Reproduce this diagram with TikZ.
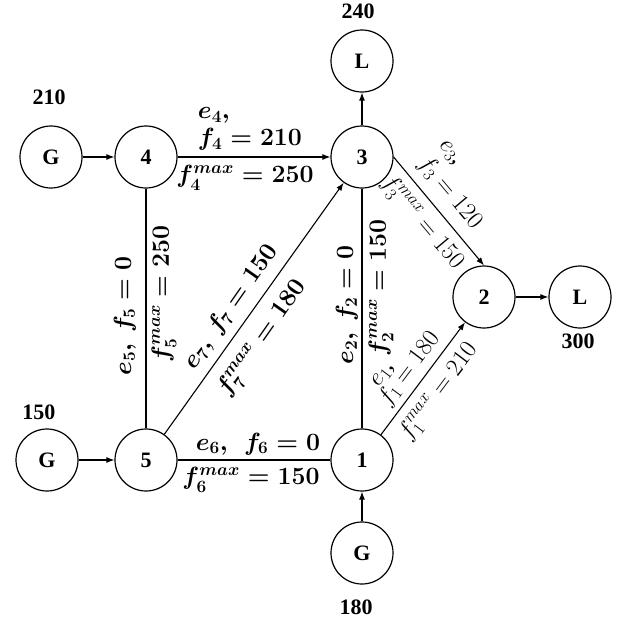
\documentclass[tikz,border=0pt]{standalone}
\usepackage{fontspec}
\setmainfont{Liberation Serif}
\usetikzlibrary{arrows.meta}
\begin{document}
\begin{tikzpicture}[x=1pt,y=-1pt,
  bus/.style={circle,draw,line width=1.2pt,minimum size=62pt,inner sep=0pt,font=\fontsize{22}{26}\selectfont\bfseries},
  num/.style={font=\fontsize{22}{26}\selectfont\bfseries},
  lb/.style={font=\fontsize{23}{27}\selectfont\boldmath, inner sep=0pt},
  lr/.style={font=\fontsize{25}{28}\selectfont\unboldmath, inner sep=0pt},
  arr/.style={-{Latex[length=8pt,width=6pt]}, line width=1.1pt},
  ln/.style={line width=1.1pt}]
\useasboundingbox (0,0) rectangle (618,619);
% buses
\node[bus] (g4) at (51,157) {G};
\node[bus] (n4) at (146,157) {4};
\node[bus] (n3) at (362,157) {3};
\node[bus] (l3) at (362,61) {L};
\node[bus] (n2) at (484,297) {2};
\node[bus] (l2) at (580,297) {L};
\node[bus] (g5) at (47,460) {G};
\node[bus] (n5) at (146,460) {5};
\node[bus] (n1) at (362,460) {1};
\node[bus] (g1) at (362,553) {G};
% injections
\node[num] (t210) at (49,97) {210};
\node[num] (t240) at (358,11) {240};
\node[num] (t300) at (578,341) {300};
\node[num] (t150) at (39,412) {150};
\node[num] (t180) at (356,607) {180};
% lines
\draw[arr] (g4) -- (n4);
\draw[arr] (n4) -- (n3);
\draw[arr] (n3) -- (l3);
\draw[arr] (n3.east) -- (n2.north);
\draw[arr] (n2) -- (l2);
\draw[arr] (g5) -- (n5);
\draw[ln] (n5) -- (n1);
\draw[ln] (n4) -- (n5);
\draw[ln] (n3) -- (n1);
\draw[arr] (n5) -- (n3);
\draw[arr] (n1) -- (n2);
\draw[arr] (g1) -- (n1);
% labels
\node[lb, align=left] (la4) at (250,129) {$e_4,$\\$f_4 = 210$};
\node[lb] (lb4) at (245,178) {$f_4^{max} = 250$};
\node[lb] (la6) at (258,444) {$e_6,\ \ f_6 = 0$};
\node[lb] (lb6) at (251,480) {$f_6^{max} = 150$};
\node[lb, rotate=90] (la5) at (125,316) {$e_5,\ f_5 = 0$};
\node[lb, rotate=90] (lb5) at (164,294) {$f_5^{max} = 250$};
\node[lb, rotate=90] (la2) at (347,305) {$e_2,\ f_2 = 0$};
\node[lb, rotate=90] (lb2) at (381,288) {$f_2^{max} = 150$};
\node[lb, rotate=55] (la7) at (231,307) {$e_7,\ f_7 = 150$};
\node[lb, rotate=55] (lb7) at (263,339) {$f_7^{max} = 180$};
\node[lr, rotate=-50, align=left] (la3) at (458,186) {$e_3$,\\$f_3 = 120$};
\node[lr, rotate=-50] (lb3) at (422,223) {$f_3^{max} = 150$};
\node[lr, rotate=53, align=left] (la1) at (404,365) {\hspace{10pt}$e_1$,\\[-8pt]$f_1 = 180$};
\node[lr, rotate=53] (lb1) at (439,392) {$f_1^{max} = 210$};
\end{tikzpicture}
\end{document}
